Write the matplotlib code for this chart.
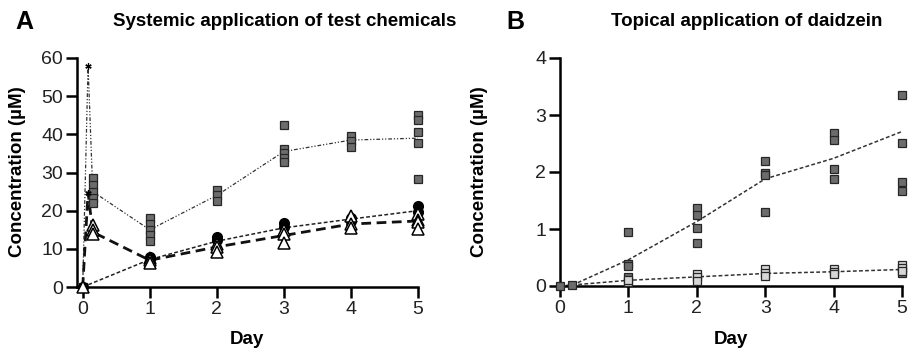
import matplotlib
matplotlib.use("Agg")
import matplotlib.pyplot as plt
import numpy as np

plt.rcParams['font.family'] = ['Liberation Sans', 'DejaVu Sans']

# ---------------- Panel A data ----------------
# gray squares series (individual points)
a_sq_x = [0, 0.15, 0.15, 0.15, 0.15, 0.15, 1, 1, 1, 1, 1, 2, 2, 2,
          3, 3, 3, 3, 3, 4, 4, 4, 5, 5, 5, 5, 5]
a_sq_y = [0, 28.5, 26.7, 24.9, 23.4, 22.0, 18.0, 16.5, 15.0, 13.5, 12.0,
          25.4, 24.0, 22.5, 42.4, 36.2, 35.0, 33.8, 32.8, 39.5, 38.3, 36.6,
          45.0, 43.7, 40.7, 37.6, 28.3]
# gray squares mean line
a_sq_mx = [0, 0.08, 0.15, 1, 2, 3, 4, 5]
a_sq_my = [0, 58, 25, 15, 24, 35.5, 38.5, 39]

# star points (2 h)
a_star_x = [0.08, 0.08]
a_star_y = [58, 24.7]

# black circles
a_ci_x = [0, 1, 1, 2, 2, 3, 3, 4, 4, 5, 5]
a_ci_y = [0, 7.8, 7.3, 13.0, 12.2, 16.8, 15.8, 17.3, 18.0, 21.3, 19.6]
a_ci_mx = [0, 1, 2, 3, 4, 5]
a_ci_my = [0, 7.2, 12.0, 15.5, 17.8, 20.0]

# open triangles
a_tr_x = [0, 0.15, 0.15, 0.15, 1, 1, 1, 2, 2, 2, 3, 3, 3, 4, 4, 4, 5, 5, 5, 5]
a_tr_y = [0, 16.2, 15.0, 13.8, 7.6, 7.0, 6.4, 11.2, 10.4, 9.3, 15.0, 14.0, 11.5,
          18.7, 16.5, 15.5, 19.0, 17.5, 17.0, 15.3]
a_tr_mx = [0, 0.08, 0.15, 1, 2, 3, 4, 5]
a_tr_my = [0, 24.7, 14.4, 7.0, 10.5, 13.5, 16.5, 17.3]

# ---------------- Panel B data ----------------
b_dk_x = [0, 0.17, 1, 1, 1, 1, 2, 2, 2, 2, 3, 3, 3, 3, 4, 4, 4, 4, 5, 5, 5, 5, 5]
b_dk_y = [0, 0.01, 0.94, 0.38, 0.35, 0.16, 1.36, 1.25, 1.01, 0.75,
          2.20, 1.99, 1.95, 1.30, 2.69, 2.56, 2.06, 1.88, 3.35, 2.51, 1.83, 1.67, 0.23]
b_dk_mx = [0, 0.17, 1, 2, 3, 4, 5]
b_dk_my = [0, 0.01, 0.46, 1.13, 1.88, 2.24, 2.71]

b_lt_x = [1, 1, 2, 2, 2, 3, 3, 3, 4, 4, 4, 5, 5, 5]
b_lt_y = [0.07, 0.10, 0.21, 0.15, 0.08, 0.29, 0.23, 0.18, 0.29, 0.24, 0.21, 0.37, 0.31, 0.27]
b_lt_mx = [0, 1, 2, 3, 4, 5]
b_lt_my = [0, 0.10, 0.16, 0.22, 0.25, 0.29]

x_ticks = [0, 1, 2, 3, 4, 5]
a_yticks = [0, 10, 20, 30, 40, 50, 60]
b_yticks = [0, 1, 2, 3, 4]

DARK = '#6c6c6c'
LIGHT = '#d6d6d6'
EDGE = '#262626'

fig = plt.figure(figsize=(9.09, 3.49), dpi=100)
axA = fig.add_axes([77/909, 1-287/349, (418-77)/909, (287-58)/349])
axB = fig.add_axes([560/909, 1-286/349, (902-560)/909, (286-58)/349])

def style(ax, yticks, xlim, ylim):
    ax.set_xlim(*xlim)
    ax.set_ylim(*ylim)
    ax.set_xticks(x_ticks)
    ax.set_yticks(yticks)
    for s in ['top', 'right']:
        ax.spines[s].set_visible(False)
    for s in ['left', 'bottom']:
        ax.spines[s].set_linewidth(1.8)
    ax.tick_params(direction='out', length=8, width=1.8, labelsize=14, pad=2,
                   labelcolor='#222222')

# Panel A lines
axA.plot(a_sq_mx, a_sq_my, color='#333333', lw=0.9, dashes=(3, 1.5, 1, 1.5, 1, 1.5), zorder=2)
axA.plot(a_ci_mx, a_ci_my, color='#222222', lw=1.1, dashes=(2.5, 1.5), zorder=2)
axA.plot(a_tr_mx, a_tr_my, color='#111111', lw=2.0, dashes=(3.5, 2.0), zorder=2)
# Panel A markers
axA.plot(a_sq_x, a_sq_y, ls='none', marker='s', ms=6, mfc=DARK, mec=EDGE, mew=0.9, zorder=3)
axA.plot(a_ci_x, a_ci_y, ls='none', marker='o', ms=7, mfc='black', mec='black', zorder=4)
axA.plot(a_tr_x, a_tr_y, ls='none', marker='^', ms=8.5, mfc='white', mec='black', mew=1.1, zorder=5)
axA.plot(a_star_x, a_star_y, ls='none', marker=(6, 2, 0), ms=4.5, mec='black', mew=0.9, zorder=6)
style(axA, a_yticks, (-0.085, 5.0), (0, 60))

# Panel B lines
axB.plot(b_dk_mx, b_dk_my, color='#333333', lw=1.1, dashes=(2.5, 1.5), zorder=2)
axB.plot(b_lt_mx, b_lt_my, color='#333333', lw=1.1, dashes=(2.5, 1.5), zorder=2)
axB.plot(b_dk_x, b_dk_y, ls='none', marker='s', ms=6, mfc=DARK, mec=EDGE, mew=0.9, zorder=3)
axB.plot(b_lt_x, b_lt_y, ls='none', marker='s', ms=6, mfc=LIGHT, mec=EDGE, mew=0.9, zorder=4)
style(axB, b_yticks, (0, 5.0), (0, 4))
for ax in (axA, axB):
    for artist in ax.lines:
        artist.set_clip_on(False)

# Titles and labels
fig.text(285/909, 1-22/349, 'Systemic application of test chemicals', ha='center', va='center',
         fontsize=13.5, fontweight='bold')
fig.text(747/909, 1-22/349, 'Topical application of daidzein', ha='center', va='center',
         fontsize=13.5, fontweight='bold')
fig.text(24/909, 1-22/349, 'A', ha='center', va='center', fontsize=18, fontweight='bold')
fig.text(515/909, 1-22/349, 'B', ha='center', va='center', fontsize=18, fontweight='bold')
fig.text(18/909, 1-172/349, 'Concentration (µM)', ha='center', va='center', rotation=90,
         fontsize=13.5, fontweight='bold')
fig.text(480/909, 1-172/349, 'Concentration (µM)', ha='center', va='center', rotation=90,
         fontsize=13.5, fontweight='bold')
fig.text(247/909, 1-340/349, 'Day', ha='center', va='center', fontsize=13.5, fontweight='bold')
fig.text(731/909, 1-340/349, 'Day', ha='center', va='center', fontsize=13.5, fontweight='bold')

fig.savefig('out.png', dpi=100)
